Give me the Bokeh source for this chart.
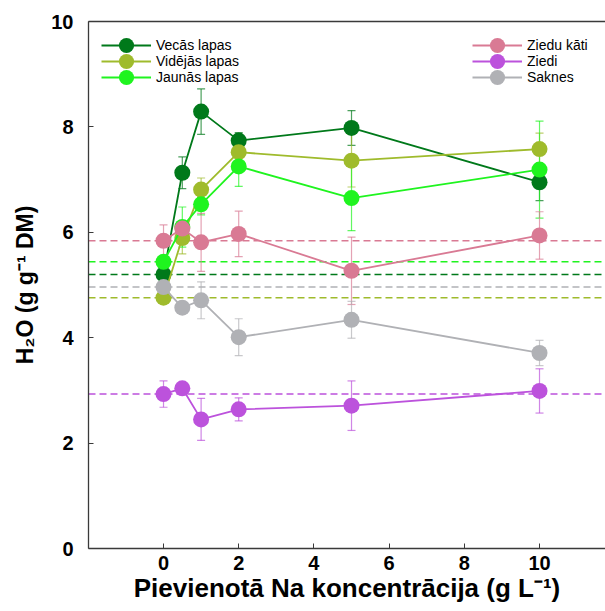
import math
from bokeh.plotting import figure
from bokeh.models import (ColumnDataSource, Whisker, Span, Legend, LegendItem,
                          FixedTicker, LinearAxis, TeeHead)
from bokeh.embed import file_html
from bokeh.resources import INLINE

# ---- data ----
conc = [0, 0.5, 1, 2, 5, 10]

names = ["Vecās lapas", "Vidējās lapas", "Jaunās lapas", "Ziedu kāti", "Ziedi", "Saknes"]
colors = ["#00791a", "#9fbb2c", "#1ff41f", "#d97a94", "#bc52dc", "#b0b1b5"]

vecas = [5.20, 7.13, 8.29, 7.74, 7.98, 6.95]
vecas_err = [0.08, 0.30, 0.43, 0.15, 0.33, 0.35]
videjas = [4.76, 5.89, 6.81, 7.52, 7.36, 7.58]
videjas_err = [0.08, 0.30, 0.22, 0.10, 0.50, 0.30]
jaunas = [5.44, 6.10, 6.53, 7.25, 6.65, 7.19]
jaunas_err = [0.08, 0.38, 0.20, 0.38, 0.62, 0.92]
ziedu_kati = [5.84, 6.07, 5.81, 5.97, 5.27, 5.94]
ziedu_kati_err = [0.30, 0.15, 0.55, 0.43, 0.64, 0.45]
ziedi = [2.93, 3.04, 2.45, 2.64, 2.71, 2.99]
ziedi_err = [0.25, 0.08, 0.40, 0.22, 0.47, 0.42]
saknes = [4.96, 4.57, 4.71, 4.01, 4.34, 3.71]
saknes_err = [0.08, 0.08, 0.35, 0.35, 0.35, 0.24]

series = [vecas, videjas, jaunas, ziedu_kati, ziedi, saknes]
errors = [vecas_err, videjas_err, jaunas_err, ziedu_kati_err, ziedi_err, saknes_err]

x_ticks = [0, 2, 4, 6, 8, 10]
y_ticks = [0, 2, 4, 6, 8, 10]

FONT = "Liberation Sans"

p = figure(width=605, height=611, x_range=(-1.995, 11.755), y_range=(0, 10),
           output_backend="svg", toolbar_location=None,
           min_border_left=88, min_border_right=0, min_border_top=21, min_border_bottom=63)
p.outline_line_color = None
p.grid.grid_line_color = None

for ax in (p.xaxis[0], p.yaxis[0]):
    ax.axis_line_color = "#3a3a3a"
    ax.axis_line_width = 1.3
    ax.major_tick_line_color = "#3a3a3a"
    ax.major_tick_in = 5
    ax.major_tick_out = 0
    ax.minor_tick_line_color = None
    ax.major_label_text_font = FONT
    ax.major_label_text_font_style = "bold"
    ax.major_label_text_font_size = "20px"
    ax.major_label_text_color = "black"
    ax.axis_label_text_font = FONT
    ax.axis_label_text_font_style = "bold"
    ax.axis_label_text_color = "black"
p.xaxis.ticker = FixedTicker(ticks=x_ticks)
p.yaxis.ticker = FixedTicker(ticks=y_ticks)
p.xaxis.major_label_standoff = 7
p.yaxis.major_label_standoff = 15
p.xaxis.axis_label = "Pievienotā Na koncentrācija (g L⁻¹)"
p.xaxis.axis_label_text_font_size = "26px"
p.xaxis.axis_label_standoff = 0
p.yaxis.axis_label = "H₂O (g g⁻¹ DM)"
p.yaxis.axis_label_text_font_size = "23px"
p.yaxis.axis_label_standoff = 10

top = LinearAxis(ticker=FixedTicker(ticks=[]), axis_line_color="#3a3a3a", axis_line_width=1.3,
                 major_tick_line_color=None, minor_tick_line_color=None,
                 major_label_text_color=None)
p.add_layout(top, "above")

renderers = []
for vals, errs, col in zip(series, errors, colors):
    src = ColumnDataSource(dict(x=conc, y=vals,
                                upper=[v + e for v, e in zip(vals, errs)],
                                lower=[v - e for v, e in zip(vals, errs)]))
    w = Whisker(base="x", upper="upper", lower="lower", source=src,
                line_color=col, line_alpha=0.7, line_width=1.2,
                upper_head=TeeHead(size=8, line_color=col, line_alpha=0.7, line_width=1.2),
                lower_head=TeeHead(size=8, line_color=col, line_alpha=0.7, line_width=1.2),
                level="underlay")
    p.add_layout(w)
    sp = Span(location=vals[0], dimension="width", line_color=col, line_width=1.5,
              line_dash="7 4", level="underlay")
    p.add_layout(sp)
    ln = p.line("x", "y", source=src, line_color=col, line_width=1.8)
    sc = p.scatter("x", "y", source=src, size=16, fill_color=col, line_color=col,
                   line_width=0)
    renderers.append([ln, sc])

# one single-item legend per entry, so that the legend circles can be large
# while the rows stay 16 px apart
row_bottoms = [484, 468, 452]
for col_i, x0 in ((0, 13), (1, 384)):
    for r in range(3):
        i = col_i * 3 + r
        lg = Legend(items=[LegendItem(label=names[i], renderers=renderers[i])],
                    location=(x0, row_bottoms[r]), background_fill_alpha=0,
                    border_line_color=None, padding=0, margin=0, spacing=0,
                    glyph_width=50, glyph_height=38, label_height=16, label_standoff=5,
                    label_text_font=FONT, label_text_font_size="14px",
                    label_text_color="black")
        p.add_layout(lg)

open("out.html", "w").write(file_html(p, INLINE))
